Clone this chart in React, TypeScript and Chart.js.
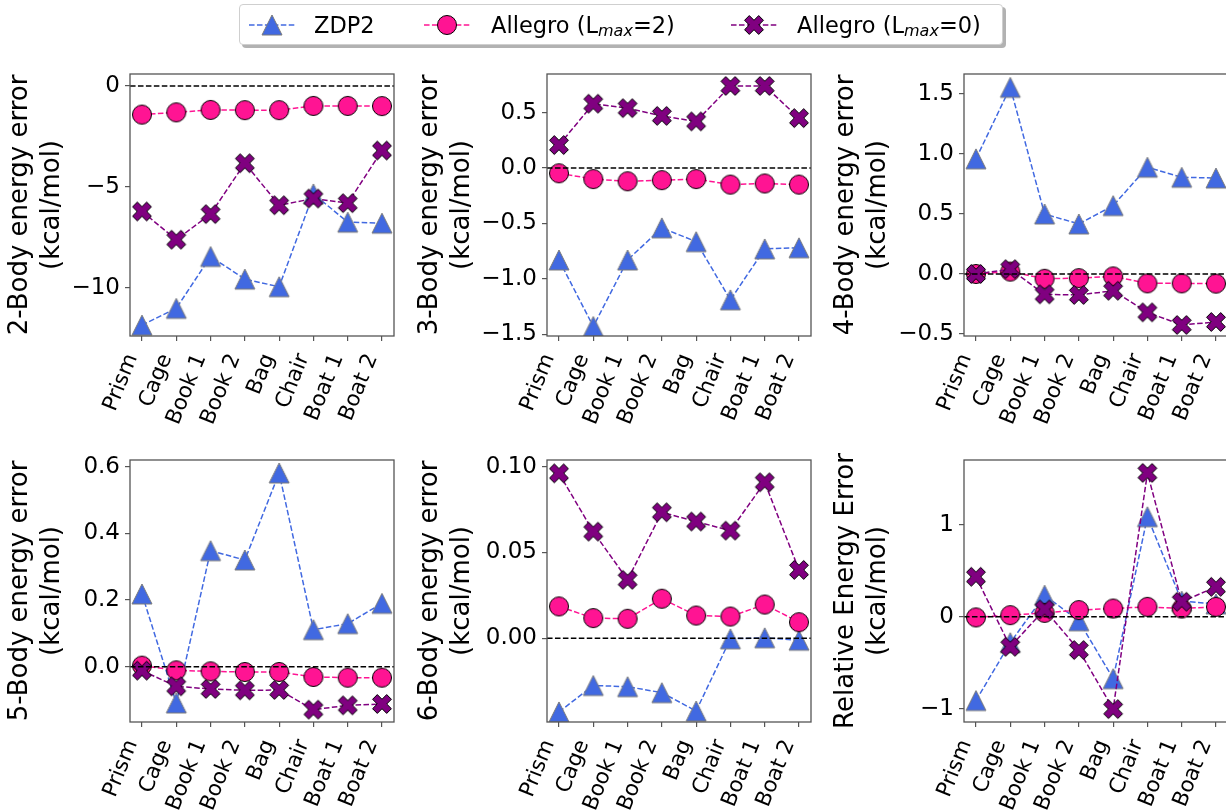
import React, { useEffect, useRef } from "react";
import { Chart, registerables } from "chart.js";

Chart.register(...registerables);

// ---------- data ----------
const categories = ["Prism", "Cage", "Book 1", "Book 2", "Bag", "Chair", "Boat 1", "Boat 2"];

const zdp2Body2 = [-11.85, -11.02, -8.45, -9.57, -9.95, -5.35, -6.75, -6.8];
const allegro2Body2 = [-1.42, -1.31, -1.19, -1.2, -1.2, -0.99, -0.99, -1.0];
const allegro0Body2 = [-6.22, -7.62, -6.35, -3.83, -5.91, -5.58, -5.81, -3.2];

const zdp2Body3 = [-0.83, -1.43, -0.83, -0.54, -0.665, -1.19, -0.73, -0.72];
const allegro2Body3 = [-0.048, -0.1, -0.12, -0.11, -0.1, -0.15, -0.14, -0.15];
const allegro0Body3 = [0.207, 0.58, 0.54, 0.47, 0.42, 0.74, 0.74, 0.45];

const zdp2Body4 = [0.96, 1.556, 0.5, 0.417, 0.57, 0.89, 0.806, 0.8];
const allegro2Body4 = [0.0, 0.02, -0.04, -0.035, -0.02, -0.078, -0.078, -0.08];
const allegro0Body4 = [0.0, 0.04, -0.17, -0.175, -0.14, -0.32, -0.425, -0.4];

const zdp2Body5 = [0.218, -0.109, 0.348, 0.32, 0.581, 0.111, 0.129, 0.19];
const allegro2Body5 = [0.003, -0.011, -0.014, -0.016, -0.016, -0.031, -0.033, -0.033];
const allegro0Body5 = [-0.012, -0.059, -0.067, -0.071, -0.07, -0.129, -0.116, -0.112];

const zdp2Body6 = [-0.043, -0.0276, -0.0283, -0.0318, -0.0425, -0.0004, 0.0002, -0.0012];
const allegro2Body6 = [0.0185, 0.0117, 0.0113, 0.023, 0.0132, 0.0126, 0.0196, 0.0093];
const allegro0Body6 = [0.0961, 0.0621, 0.034, 0.0734, 0.068, 0.0627, 0.0909, 0.0398];

const zdp2Rel = [-0.907, -0.28, 0.235, -0.043, -0.67, 1.085, 0.17, 0.14];
const allegro2Rel = [-0.006, 0.018, 0.043, 0.073, 0.09, 0.108, 0.09, 0.108];
const allegro0Rel = [0.434, -0.325, 0.08, -0.36, -1.0, 1.56, 0.163, 0.325];

const panelTitles = [
  ["2-Body energy error", "(kcal/mol)"],
  ["3-Body energy error", "(kcal/mol)"],
  ["4-Body energy error", "(kcal/mol)"],
  ["5-Body energy error", "(kcal/mol)"],
  ["6-Body energy error", "(kcal/mol)"],
  ["Relative Energy Error", "(kcal/mol)"],
];
const yMins = [-12.39, -1.516, -0.517, -0.166, -0.0489, -1.14];
const yMaxs = [0.59, 0.848, 1.667, 0.62, 0.1039, 1.7];
const yTicks2 = [-10, -5, 0];
const yTicks3 = [-1.5, -1.0, -0.5, 0.0, 0.5];
const yTicks4 = [-0.5, 0.0, 0.5, 1.0, 1.5];
const yTicks5 = [0.0, 0.2, 0.4, 0.6];
const yTicks6 = [0.0, 0.05, 0.1];
const yTicksRel = [-1, 0, 1];
const yTickSets = [yTicks2, yTicks3, yTicks4, yTicks5, yTicks6, yTicksRel];
const yDecimals = [0, 1, 1, 1, 2, 0];

const seriesZdp2 = [zdp2Body2, zdp2Body3, zdp2Body4, zdp2Body5, zdp2Body6, zdp2Rel];
const seriesA2 = [allegro2Body2, allegro2Body3, allegro2Body4, allegro2Body5, allegro2Body6, allegro2Rel];
const seriesA0 = [allegro0Body2, allegro0Body3, allegro0Body4, allegro0Body5, allegro0Body6, allegro0Rel];

// ---------- styling / layout ----------
const BLUE = "#4169E1";
const PINK = "#FF1493";
const PURPLE = "#800080";
const FONT = "DejaVu Sans";
const X_TICK_FS = 21.5;
const Y_TICK_FS = 23;
const X_ROT = 68;
const X_LABEL_OFF = 15;
const colCanvasLeft = [5, 415, 831];
const colChartLeft = [130, 547, 964];
const rowChartTop = [74, 460];
const PLOT_W = 264;
const PLOT_H = 262;
const PAD_T = 30;
const PAD_R = 30;
const X_H = 125;

function makeMarker(kind: string, ms = 20): HTMLCanvasElement {
  const c = document.createElement("canvas");
  c.width = 26;
  c.height = 26;
  const ctx = c.getContext("2d")!;
  ctx.translate(13, 13);
  ctx.lineWidth = 1;
  ctx.beginPath();
  if (kind === "tri") {
    const h = ms / 2;
    ctx.moveTo(0, -h);
    ctx.lineTo(h, h);
    ctx.lineTo(-h, h);
    ctx.closePath();
    ctx.fillStyle = BLUE;
    ctx.strokeStyle = "#7a7a7a";
  } else if (kind === "circle") {
    ctx.arc(0, 0, ms / 2 - 0.5, 0, Math.PI * 2);
    ctx.fillStyle = PINK;
    ctx.strokeStyle = "#000";
  } else {
    const pts = [
      [-1, -3], [1, -3], [1, -1], [3, -1], [3, 1], [1, 1],
      [1, 3], [-1, 3], [-1, 1], [-3, 1], [-3, -1], [-1, -1],
    ];
    const a = Math.PI / 4;
    pts.forEach(([px, py], i) => {
      const x = (px / 6) * ms;
      const y = (py / 6) * ms;
      const rx = x * Math.cos(a) - y * Math.sin(a);
      const ry = x * Math.sin(a) + y * Math.cos(a);
      if (i === 0) ctx.moveTo(rx, ry);
      else ctx.lineTo(rx, ry);
    });
    ctx.closePath();
    ctx.fillStyle = PURPLE;
    ctx.strokeStyle = "#000";
  }
  ctx.fill();
  ctx.stroke();
  return c;
}

const frameZeroPlugin = {
  id: "frameZero",
  afterDatasetsDraw(chart: any) {
    const { ctx, chartArea: a, scales } = chart;
    const yp = scales.y.getPixelForValue(0);
    ctx.save();
    ctx.beginPath();
    ctx.rect(a.left, a.top, a.right - a.left, a.bottom - a.top);
    ctx.clip();
    ctx.strokeStyle = "#000";
    ctx.lineWidth = 1.5;
    ctx.setLineDash([5.55, 2.4]);
    ctx.beginPath();
    ctx.moveTo(a.left, yp);
    ctx.lineTo(a.right, yp);
    ctx.stroke();
    ctx.restore();
  },
  afterDraw(chart: any) {
    const { ctx, chartArea: a, scales } = chart;
    ctx.save();
    ctx.strokeStyle = "#555";
    ctx.lineWidth = 1.3;
    ctx.strokeRect(a.left, a.top, a.right - a.left, a.bottom - a.top);
    ctx.restore();

    // rotated category labels, matplotlib-style (ha=right, bbox top under the axis)
    const th = (X_ROT * Math.PI) / 180;
    const desc = 0.236 * X_TICK_FS;
    const asc = 0.76 * X_TICK_FS;
    const xs = scales.x;
    ctx.save();
    ctx.font = `${X_TICK_FS}px "${FONT}"`;
    ctx.fillStyle = "#000";
    ctx.textAlign = "right";
    ctx.textBaseline = "alphabetic";
    xs.ticks.forEach((t: any) => {
      const label = categories[Math.round(t.value)];
      if (label === undefined) return;
      const px = xs.getPixelForValue(t.value);
      const bx = px - desc * Math.sin(th);
      const by = a.bottom + X_LABEL_OFF + asc * Math.cos(th);
      ctx.save();
      ctx.translate(bx, by);
      ctx.rotate(-th);
      ctx.fillText(label, 0, 0);
      ctx.restore();
    });
    ctx.restore();
  },
};

function fmt(v: number, d: number) {
  const s = Number(v).toFixed(d);
  return s.replace("-", "\u2212");
}

function Panel({ idx }: { idx: number }) {
  const ref = useRef<HTMLCanvasElement | null>(null);
  const col = idx % 3;
  const row = Math.floor(idx / 3);
  const yWidth = colChartLeft[col] - colCanvasLeft[col];
  const width = yWidth + PLOT_W + PAD_R;
  const height = PAD_T + PLOT_H + X_H;
  const left = colCanvasLeft[col];
  const top = rowChartTop[row] - PAD_T;

  useEffect(() => {
    const canvas = ref.current!;
    const tri = makeMarker("tri");
    const circ = makeMarker("circle");
    const cross = makeMarker("x");
    const toPts = (arr: number[]) => arr.map((v, i) => ({ x: i, y: v }));
    const gridOpts = {
      display: true,
      drawOnChartArea: false,
      drawTicks: true,
      tickLength: 5,
      color: "#555",
      lineWidth: 1.2,
    };
    const dash = [5.55, 2.4];
    const mk = (label: string, arr: number[], color: string, img: any, order: number) => ({
      label,
      data: toPts(arr),
      borderColor: color,
      backgroundColor: color,
      borderWidth: 1.5,
      borderDash: dash,
      pointStyle: img,
      pointRadius: 10,
      clip: 0 as any,
      order,
      fill: false,
    });
    const chart = new Chart(canvas, {
      type: "line",
      data: {
        datasets: [
          mk("ZDP2", seriesZdp2[idx], BLUE, tri, 3),
          mk("Allegro (Lmax=2)", seriesA2[idx], PINK, circ, 2),
          mk("Allegro (Lmax=0)", seriesA0[idx], PURPLE, cross, 1),
        ] as any,
      },
      options: {
        animation: false,
        responsive: false,
        maintainAspectRatio: false,
        events: [],
        layout: { padding: { top: PAD_T, right: PAD_R, left: 0, bottom: 0 } },
        plugins: { legend: { display: false }, tooltip: { enabled: false } },
        scales: {
          x: {
            type: "linear",
            min: -0.35,
            max: 7.35,
            bounds: "data",
            afterBuildTicks: (s: any) => {
              s.ticks = categories.map((_, i) => ({ value: i }));
            },
            afterFit: (s: any) => {
              s.height = X_H;
            },
            grid: gridOpts,
            border: { display: false },
            ticks: {
              display: false,
              autoSkip: false,
              maxRotation: 0,
              minRotation: 0,
            },
          },
          y: {
            type: "linear",
            min: yMins[idx],
            max: yMaxs[idx],
            bounds: "data",
            afterBuildTicks: (s: any) => {
              s.ticks = yTickSets[idx].map((v) => ({ value: v }));
            },
            afterFit: (s: any) => {
              s.width = yWidth;
            },
            grid: gridOpts,
            border: { display: false },
            ticks: {
              autoSkip: false,
              padding: 5,
              color: "#000",
              font: { family: FONT, size: Y_TICK_FS },
              callback: (v: any) => fmt(Number(v), yDecimals[idx]),
            },
            title: {
              display: true,
              text: panelTitles[idx],
              color: "#000",
              padding: 0,
              font: { family: FONT, size: 26, lineHeight: 1.2 },
            },
          },
        } as any,
      },
      plugins: [frameZeroPlugin],
    });
    return () => chart.destroy();
  }, [idx]);

  return (
    <canvas
      ref={ref}
      width={width}
      height={height}
      style={{ position: "absolute", left, top, width, height }}
    />
  );
}

function Handle({ kind, color, left }: { kind: string; color: string; left: number }) {
  let marker: React.ReactNode = null;
  if (kind === "tri") {
    marker = <polygon points="23,3 33,23 13,23" fill={BLUE} stroke="#7a7a7a" strokeWidth={1} />;
  } else if (kind === "circle") {
    marker = <circle cx={23} cy={13} r={9.5} fill={PINK} stroke="#000" strokeWidth={1} />;
  } else {
    const pts = [
      [-1, -3], [1, -3], [1, -1], [3, -1], [3, 1], [1, 1],
      [1, 3], [-1, 3], [-1, 1], [-3, 1], [-3, -1], [-1, -1],
    ];
    const a = Math.PI / 4;
    const s = pts
      .map(([px, py]) => {
        const x = (px / 6) * 20;
        const y = (py / 6) * 20;
        return `${23 + x * Math.cos(a) - y * Math.sin(a)},${13 + x * Math.sin(a) + y * Math.cos(a)}`;
      })
      .join(" ");
    marker = <polygon points={s} fill={PURPLE} stroke="#000" strokeWidth={1} />;
  }
  return (
    <svg width={46} height={26} style={{ position: "absolute", left, top: 12 }}>
      <line x1={0} y1={13} x2={46} y2={13} stroke={color} strokeWidth={1.5} strokeDasharray="5.55 2.4" />
      {marker}
    </svg>
  );
}

function LegendText({ left, children }: { left: number; children: React.ReactNode }) {
  return (
    <div
      style={{
        position: "absolute",
        left,
        top: 4,
        height: 41,
        display: "flex",
        alignItems: "center",
        whiteSpace: "nowrap",
        fontFamily: FONT,
        fontSize: 22.5,
        color: "#000",
      }}
    >
      {children}
    </div>
  );
}

const sub = (
  <span style={{ fontSize: 16, fontStyle: "italic", position: "relative", top: 6 }}>max</span>
);

export default function App() {
  return (
    <div
      style={{
        position: "fixed",
        left: 0,
        top: 0,
        width: 1226,
        height: 812,
        overflow: "hidden",
        background: "#fff",
      }}
    >
      {[0, 1, 2, 3, 4, 5].map((i) => (
        <Panel key={i} idx={i} />
      ))}
      <div
        style={{
          position: "absolute",
          left: 239,
          top: 4,
          width: 764,
          height: 41,
          boxSizing: "border-box",
          border: "1px solid #cfcfcf",
          borderRadius: 4,
          background: "#fff",
          boxShadow: "3px 3px 0 rgba(0,0,0,0.3)",
        }}
      />
      <Handle kind="tri" color={BLUE} left={248.5} />
      <LegendText left={314}>ZDP2</LegendText>
      <Handle kind="circle" color={PINK} left={424} />
      <LegendText left={491}>
        <span>Allegro (L</span>
        {sub}
        <span>=2)</span>
      </LegendText>
      <Handle kind="x" color={PURPLE} left={731} />
      <LegendText left={797}>
        <span>Allegro (L</span>
        {sub}
        <span>=0)</span>
      </LegendText>
    </div>
  );
}
